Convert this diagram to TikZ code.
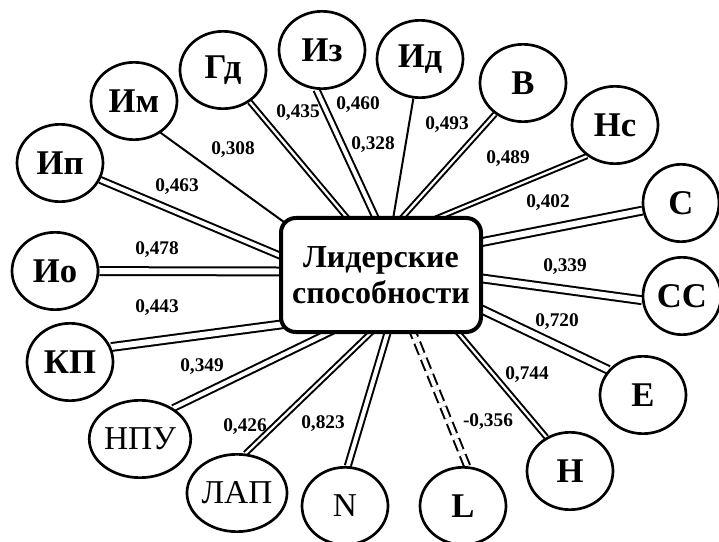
\documentclass[tikz,border=0pt]{standalone}
\usepackage{fontspec}
\setmainfont{Liberation Serif}
\usetikzlibrary{shapes.geometric}
\pgfdeclarelayer{background}
\pgfsetlayers{background,main}
\begin{document}
\begin{tikzpicture}[x=0.75pt,y=-0.75pt,
  circ/.style={draw, fill=white, line width=2pt, ellipse, inner sep=0pt,
    minimum width=64.5pt, minimum height=58pt,
    font=\fontsize{26}{28}\selectfont\bfseries},
  circr/.style={circ, font=\fontsize{25}{27}\selectfont},
  lbl/.style={font=\fontsize{14.5}{16}\selectfont\bfseries, inner sep=0pt},
  conn/.style={line width=1.5pt, shorten <=-6pt},
  dn/.style={conn, double, double distance=1.7pt},
  dm/.style={conn, double, double distance=3pt},
  dw/.style={conn, double, double distance=4.4pt},
  hub/.style={draw, fill=white, line width=3pt, rounded corners=11pt,
    minimum width=150pt, minimum height=85.5pt, align=center,
    font=\fontsize{24}{27}\selectfont\bfseries}
]
\useasboundingbox (0,0) rectangle (719,542);

\node[hub] (box) at (381,275) {Лидерские\\способности};

\node[circ] (gd) at (223,70) {Гд};
\node[circ] (iz) at (322,50) {Из};
\node[circ] (im) at (134,101) {Им};
\node[circ] (ip) at (60,163) {Ип};
\node[circ] (id) at (420,59) {Ид};
\node[circ] (v) at (523,83) {В};
\node[circ] (ns) at (615,125) {Нс};
\node[circ, minimum width=57pt] (s) at (681,203) {С};
\node[circ, minimum width=58.5pt] (ss) at (682,296) {СС};
\node[circ] (e) at (643,395) {Е};
\node[circ] (h) at (570,471) {Н};
\node[circ] (l) at (463,506) {L};
\node[circr] (n) at (345,506) {N};
\node[circr, minimum width=75pt] (lap) at (237,493) {ЛАП};
\node[circr, minimum width=72pt] (npu) at (140,439) {НПУ};
\node[circ] (kp) at (70,362) {КП};
\node[circ] (io) at (55,271) {Ио};

\begin{pgfonlayer}{background}
\fill[white] (0,0) rectangle (719,542);
\draw[dn] (box.121) -- (gd);
\draw[dm] (box.96) -- (iz.262);
\draw[conn] (box.78) -- (id);
\draw[dn] (box.69) -- (v);
\draw[dn] (box.44) -- (ns.228);
\draw[conn] (box.151) -- (im.310);
\draw[dm] (box.169) -- (ip);
\draw[dw] (box.178) -- (io);
\draw[dw] (box.206) -- (kp.20);
\draw[dm] (box.227) -- (npu.43);
\draw[dn] (box.259) -- (lap.78);
\draw[dm] (box.276) -- (n.86);
\draw[dm, dash pattern=on 9pt off 4pt] (box.299) -- (l.84);
\draw[dn] (box.323) -- (h.125);
\draw[dw] (box.341) -- (e.144);
\draw[dw] (box.358) -- (ss.186);
\draw[dw] (box.18) -- (s);
\end{pgfonlayer}

\node[lbl] (t1) at (233,150) {0,308};
\node[lbl] (t2) at (298,113) {0,435};
\node[lbl] (t3) at (358,105) {0,460};
\node[lbl] (t4) at (373,145) {0,328};
\node[lbl] (t5) at (447,125) {0,493};
\node[lbl] (t6) at (508,159) {0,489};
\node[lbl] (t7) at (548,203) {0,402};
\node[lbl] (t8) at (565,267) {0,339};
\node[lbl] (t9) at (557,322) {0,720};
\node[lbl] (t10) at (527,375) {0,744};
\node[lbl] (t11) at (488,422) {-0,356};
\node[lbl] (t12) at (323,424) {0,823};
\node[lbl] (t13) at (245,427) {0,426};
\node[lbl] (t14) at (202,367) {0,349};
\node[lbl] (t15) at (157,308) {0,443};
\node[lbl] (t16) at (157,250) {0,478};
\node[lbl] (t17) at (177,187) {0,463};
\end{tikzpicture}
\end{document}
